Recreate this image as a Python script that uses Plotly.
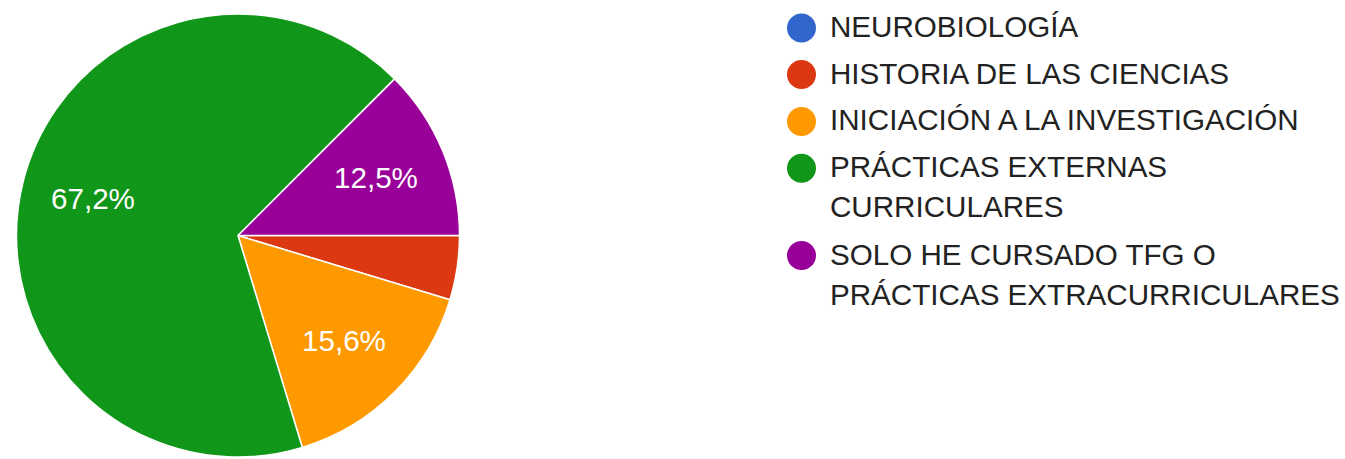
import math
import plotly.graph_objects as go

# ---- data ----
categories = [
    "NEUROBIOLOGÍA",
    "HISTORIA DE LAS CIENCIAS",
    "INICIACIÓN A LA INVESTIGACIÓN",
    "PRÁCTICAS EXTERNAS CURRICULARES",
    "SOLO HE CURSADO TFG O PRÁCTICAS EXTRACURRICULARES",
]
legend_lines = [
    ["NEUROBIOLOGÍA"],
    ["HISTORIA DE LAS CIENCIAS"],
    ["INICIACIÓN A LA INVESTIGACIÓN"],
    ["PRÁCTICAS EXTERNAS", "CURRICULARES"],
    ["SOLO HE CURSADO TFG O", "PRÁCTICAS EXTRACURRICULARES"],
]
counts = [0, 3, 10, 43, 8]
colors = ["#3366cc", "#dc3912", "#ff9900", "#109618", "#990099"]

# ---- layout constants ----
W, H = 1345, 459
FONT = "Liberation Sans, Arial, sans-serif"
FS = 29.6
cx_px, cy_px, r_px = 238, 235.5, 221.5
start_deg = 90  # pie starts at 3 o'clock, clockwise

fig = go.Figure()
fig.add_trace(go.Pie(
    labels=categories,
    values=counts,
    marker=dict(colors=colors, line=dict(color="white", width=1.5)),
    sort=False,
    direction="clockwise",
    rotation=start_deg,
    textinfo="none",
    hoverinfo="label+percent",
    showlegend=False,
    domain=dict(x=[(cx_px - r_px) / W, (cx_px + r_px) / W],
                y=[1 - (cy_px + r_px) / H, 1 - (cy_px - r_px) / H]),
))

annotations = []
shapes = []

# slice percentage labels (computed from values)
total = sum(counts)
cum = 0
for c in counts:
    frac = c / total
    mid = start_deg + (cum + frac / 2) * 360
    cum += frac
    if frac < 0.05:
        continue
    a = math.radians(mid)
    lr = 0.675 * r_px
    x = cx_px + lr * math.sin(a)
    y = cy_px - lr * math.cos(a) - 1
    txt = f"{frac * 100:.1f}%".replace(".", ",")
    annotations.append(dict(
        x=x / W, y=1 - y / H, xref="paper", yref="paper",
        text=txt, showarrow=False, xanchor="center", yanchor="middle",
        font=dict(family=FONT, size=FS, color="white"),
    ))

# legend
item_y = [28, 74.5, 121.5, 168.3, 255.5]
line_gap = 40
cr = 14.5
lx_circle = 801.5
lx_text = 828
for i, lines in enumerate(legend_lines):
    yc = item_y[i]
    shapes.append(dict(
        type="circle", xref="paper", yref="paper",
        x0=(lx_circle - cr) / W, x1=(lx_circle + cr) / W,
        y0=1 - (yc + cr) / H, y1=1 - (yc - cr) / H,
        fillcolor=colors[i], line=dict(width=0),
    ))
    for j, ln in enumerate(lines):
        annotations.append(dict(
            x=lx_text / W, y=1 - (yc + j * line_gap - 1.5) / H,
            xref="paper", yref="paper",
            text=ln, showarrow=False, xanchor="left", yanchor="middle",
            font=dict(family=FONT, size=FS, color="#222222"),
        ))

fig.update_layout(
    width=W, height=H,
    margin=dict(l=0, r=0, t=0, b=0),
    paper_bgcolor="white",
    plot_bgcolor="white",
    annotations=annotations,
    shapes=shapes,
)

fig.write_html(
    "out.html",
    config={"displayModeBar": False},
    post_script="document.body.style.margin='0';document.body.style.overflow='hidden';",
)
